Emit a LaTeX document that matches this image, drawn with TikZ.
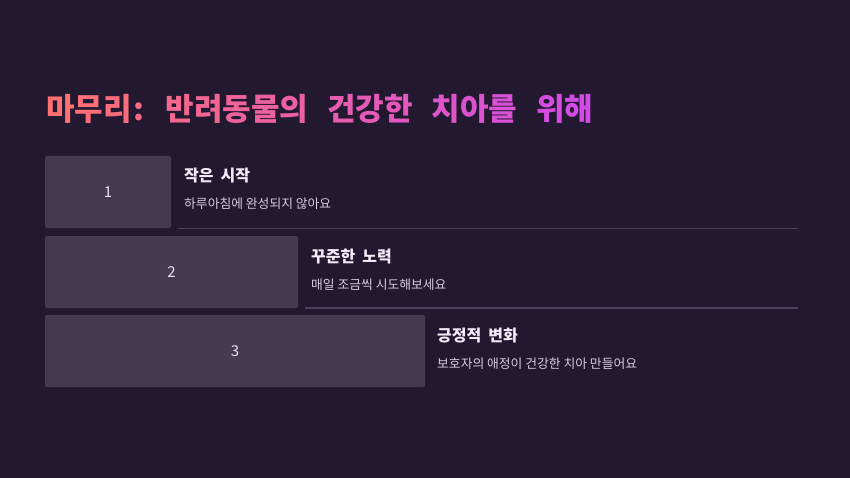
\documentclass[tikz,border=0pt]{standalone}
\usepackage{fontspec}
\setmainfont{Noto Sans CJK KR}
\definecolor{bg}{HTML}{221830}
\definecolor{boxfill}{HTML}{463952}
\definecolor{rulec}{HTML}{4B3F5C}
\definecolor{headc}{HTML}{F2ECF7}
\definecolor{subc}{HTML}{D6CDE0}
\definecolor{numc}{HTML}{EAE3F2}
\definecolor{tstart}{HTML}{FF7070}
\definecolor{tend}{HTML}{D24BE6}
\newcommand{\gc}[2]{\textcolor{tend!#1!tstart}{#2}}
\newcommand{\wsp}{\hspace{19pt}}
\newcommand{\hsp}{\hspace{7pt}}
\tikzset{
  stepbox/.style={fill=boxfill, rounded corners=2pt, draw=none},
  numtext/.style={text=numc, font=\fontsize{15}{17}\selectfont},
  headtext/.style={anchor=base west, inner sep=0pt, text=headc, font=\bfseries\fontsize{16}{19}\selectfont},
  subtext/.style={anchor=base west, inner sep=0pt, text=subc, font=\fontsize{12.8}{15}\selectfont},
  sepline/.style={draw=rulec, line width=1.5pt},
}
\begin{document}
\begin{tikzpicture}[x=1pt,y=-1pt]
\fill[bg] (0,0) rectangle (850,478);
\useasboundingbox (0,0) rectangle (850,478);
% title
\node[anchor=base west, inner sep=0pt, font=\bfseries\fontsize{31}{36}\selectfont] (title) at (46,121)
 {\gc{0}{마}\gc{5}{무}\gc{10}{리}\hspace{2pt}\gc{15}{:}\hspace{21pt}\gc{25}{반}\gc{30}{려}\gc{35}{동}\gc{40}{물}\gc{45}{의}\wsp\gc{55}{건}\gc{60}{강}\gc{65}{한}\wsp\gc{75}{치}\gc{80}{아}\gc{85}{를}\wsp\gc{95}{위}\gc{100}{해}};
% boxes
\path[stepbox] (45,156) rectangle (171,228);
\path[stepbox] (45,236) rectangle (298,308);
\path[stepbox] (45,315) rectangle (425,387);
\node[numtext] (n1) at (108,192) {1};
\node[numtext] (n2) at (171.5,272) {2};
\node[numtext] (n3) at (235,351) {3};
% texts
\node[headtext] (h1) at (184,182) {작은\hsp 시작};
\node[subtext] (s1) at (184,209) {하루아침에 완성되지 않아요};
\node[headtext] (h2) at (311,262) {꾸준한\hsp 노력};
\node[subtext] (s2) at (311,289) {매일 조금씩 시도해보세요};
\node[headtext] (h3) at (437,341.5) {긍정적\hsp 변화};
\node[subtext] (s3) at (437,368.5) {보호자의 애정이 건강한 치아 만들어요};
% separators
\coordinate (l1a) at (178,228.5); \coordinate (l1b) at (798,228.5);
\coordinate (l2a) at (305,308); \coordinate (l2b) at (798,308);
\draw[sepline] (l1a) -- (l1b);
\draw[sepline] (l2a) -- (l2b);
\end{tikzpicture}
\end{document}
